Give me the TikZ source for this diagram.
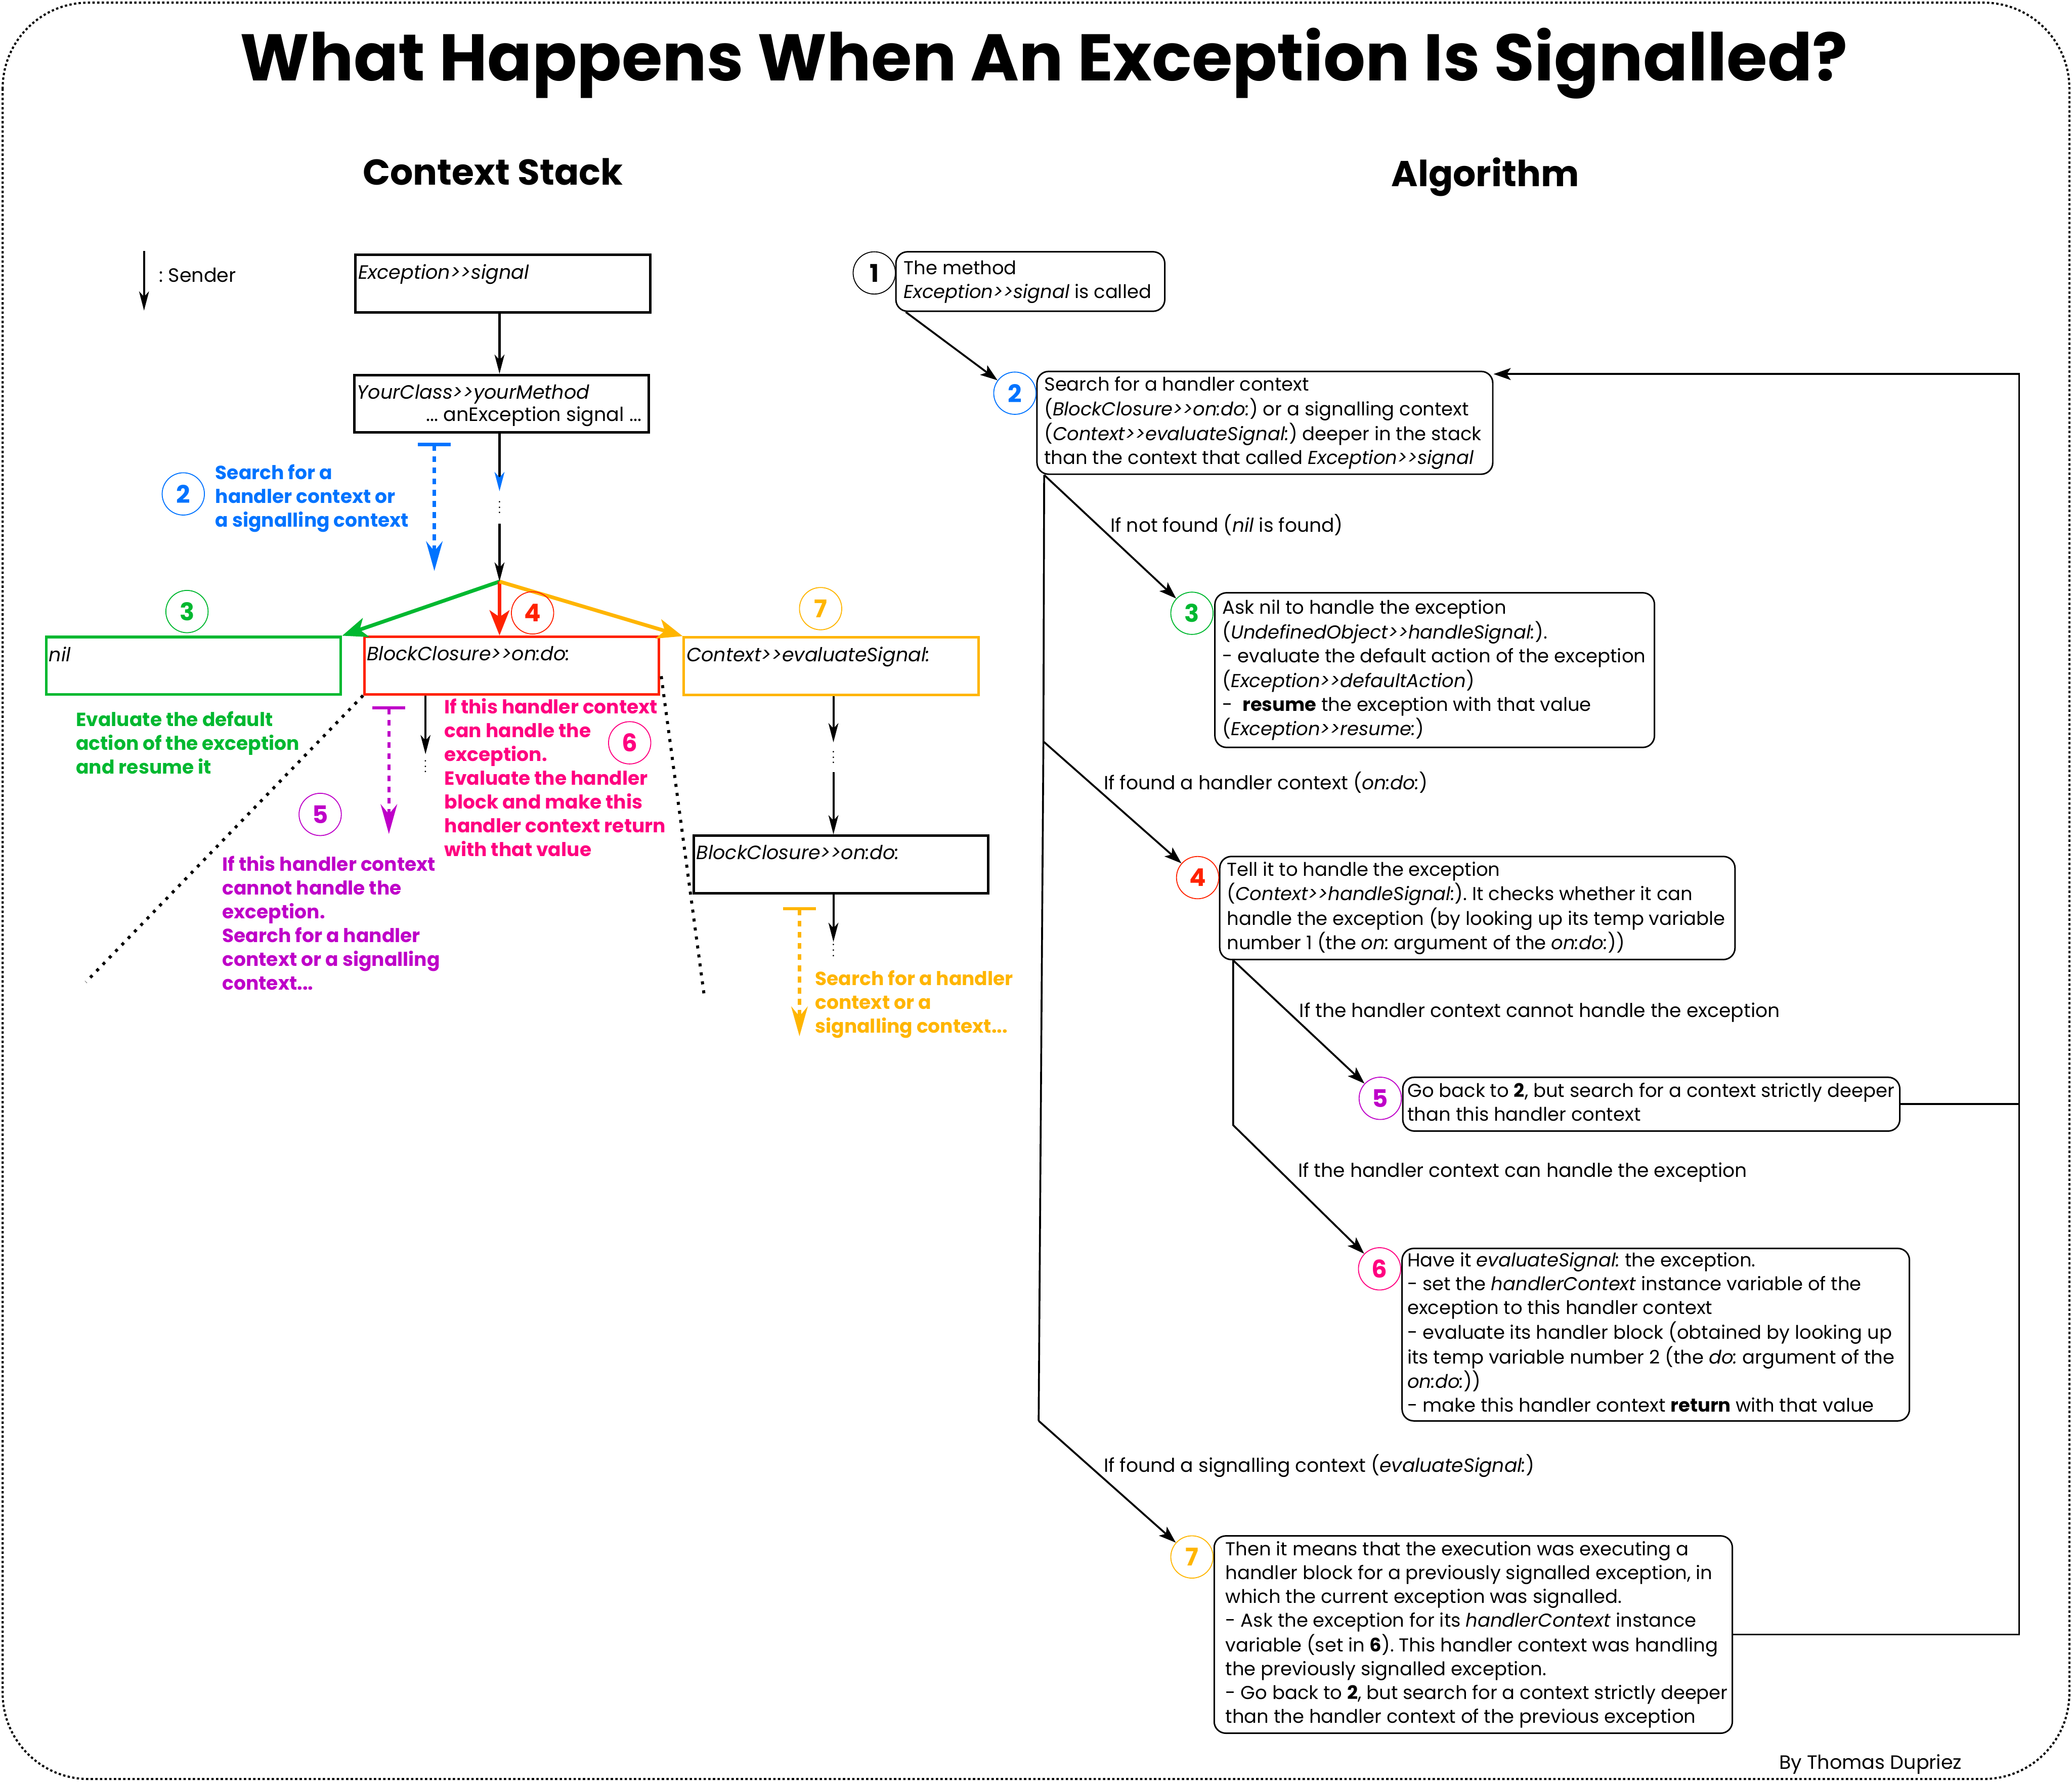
\documentclass[tikz,border=0pt]{standalone}
\usepackage{fontspec}
\setmainfont{Poppins}[Ligatures=TeXOff]
\usetikzlibrary{arrows.meta,calc}

\definecolor{cblue}{RGB}{0,115,255}
\definecolor{cgreen}{RGB}{0,184,48}
\definecolor{cred}{RGB}{255,34,0}
\definecolor{corange}{RGB}{255,181,0}
\definecolor{cmagenta}{RGB}{190,0,200}
\definecolor{cpink}{RGB}{255,0,128}

\frenchspacing
\newcommand\bodyfont{\fontsize{8.05}{10.24}\selectfont}
\newcommand\lblfont{\fontsize{8.2}{10.24}\selectfont}
\newcommand\stackfont{\fontsize{8.3}{10.24}\selectfont}
\newcommand\notefont{\fontsize{8.2}{10.24}\selectfont\bfseries}
\newcommand\stackdots{\vbox{\fontsize{5}{5}\selectfont\baselineskip2.3pt\lineskiplimit0pt\hbox{.}\hbox{.}\hbox{.}}}
\newcommand\algtext[2]{\makebox[#1][l]{\begin{tabular}{@{}l@{}}#2\end{tabular}}}

\tikzset{
  stackbox/.style={draw, line width=1.1pt, minimum width=4.46cm, minimum height=0.87cm, inner sep=0pt},
  stacklbl/.style={font=\stackfont\itshape, inner xsep=1.5pt, inner ysep=4.5pt, label distance=0pt},
  algbox/.style={draw, rounded corners=5pt, line width=0.65pt, font=\bodyfont, inner sep=0pt},
  numcirc/.style={draw, circle, minimum size=0.64cm, inner sep=0pt, line width=0.4pt, font=\fontsize{10.5}{12}\selectfont\bfseries},
  note/.style={anchor=north west, align=left, inner sep=0pt, font=\notefont},
  dotsnode/.style={inner sep=0pt},
  sender/.style={line width=0.9pt, -{Stealth[length=0.29cm, width=0.15cm, inset=0.08cm]}},
  bigarrow/.style={line width=1.6pt, -{Stealth[length=0.38cm, width=0.3cm, inset=0.1cm]}},
  searcharrow/.style={line width=1.4pt, dash pattern=on 2.5pt off 2.3pt, {Bar[width=0.5cm]}-{Stealth[length=0.45cm, width=0.25cm, inset=0.15cm]}},
  perspective/.style={line width=1.3pt, dash pattern=on 1.3pt off 2.6pt},
  algarrow/.style={line width=0.8pt, -{Stealth[length=0.26cm, width=0.18cm, inset=0.06cm]}},
  algline/.style={line width=0.8pt},
  branchlbl/.style={anchor=west, font=\lblfont, inner sep=0pt},
}

\begin{document}
\begin{tikzpicture}[x=0.02cm, y=-0.02cm]
  \useasboundingbox (0,0) rectangle (1568,1348);

  % Outer frame
  \draw[line width=0.9pt, dash pattern=on 1pt off 1pt, rounded corners=1.3cm] (2,2) rectangle (1566,1346);

  % Titles
  \node[font=\fontsize{28.4}{32}\selectfont\bfseries] (title) at (790,48) {What Happens When An Exception Is Signalled?};
  \node[font=\fontsize{15.5}{18}\selectfont\bfseries] (stackhead) at (373,130) {Context Stack};
  \node[font=\fontsize{15.5}{18}\selectfont\bfseries] (alghead) at (1124,134) {Algorithm};

  % Legend
  \coordinate (lgtop) at (109,190);
  \coordinate (lgbot) at (109,235);
  \draw[sender] (lgtop) -- (lgbot);
  \node[branchlbl, font=\stackfont] (lgtxt) at (120,208) {: Sender};

  % Context stack: sender chain
  \node[stackbox, label={[stacklbl, anchor=north west]north west:Exception>>signal}] (sig) at (380.5,214.5) {};
  \node[stackbox, label={[stacklbl, anchor=north west]north west:YourClass>>yourMethod},
    label={[stacklbl, font=\stackfont, inner xsep=3.5pt, inner ysep=3pt, anchor=south east]south east:... anException signal ...}] (ym) at (379.5,305.5) {};
  \node[dotsnode, minimum height=0.48cm] (d1) at (378,384) {\stackdots};
  \coordinate (split) at (378,440);
  \draw[sender] (sig.south -| split) -- (ym.north -| split);
  \draw[line width=0.9pt, -{Stealth[length=0.29cm, width=0.15cm, inset=0.08cm, color=cblue]}] (ym.south -| d1) -- (d1.north);
  \draw[sender] (d1.south) -- (split);

  % Step 2 on the stack
  \coordinate (s2top) at (328.7,335);
  \coordinate (s2bot) at (328.7,432);
  \draw[searcharrow, cblue] (s2top) -- (s2bot);
  \node[numcirc, cblue] (k2) at (138.7,373.7) {2};
  \node[note, cblue] (n2) at (162.6,351) {Search for a\\ handler context or\\ a signalling context};

  % The three candidate contexts
  \node[stackbox, cgreen, label={[stacklbl, black, anchor=north west]north west:nil}] (nil) at (146.5,503.7) {};
  \node[stackbox, cred, label={[stacklbl, black, anchor=north west]north west:BlockClosure>>on:do:}] (bc) at (387.2,503.5) {};
  \node[stackbox, corange, label={[stacklbl, black, anchor=north west]north west:Context>>evaluateSignal:}] (ctx) at (629,504) {};
  \draw[bigarrow, cgreen] (split) -- (nil.north east);
  \draw[bigarrow, cred] (split) -- (split |- bc.north);
  \draw[bigarrow, corange] (split) -- (ctx.north west);
  \node[numcirc, cgreen] (k3) at (141.5,462.7) {3};
  \node[numcirc, cred] (k4) at (403,463.7) {4};
  \node[numcirc, corange] (k7) at (621,460.5) {7};

  % Step 3 note
  \node[note, cgreen] (n3) at (57.2,538) {Evaluate the default\\ action of the exception\\ and resume it};

  % Perspective lines of the handler context
  \coordinate (pl) at (65,743);
  \coordinate (prs) at (500.4,511.6);
  \coordinate (pr) at (533,754);
  \draw[perspective] (bc.south west) -- (pl);
  \draw[perspective] (prs) -- (pr);

  % Steps 5 and 6 below the handler context
  \node[dotsnode, minimum height=0.36cm] (d2) at (322,580) {\stackdots};
  \draw[sender] (bc.south -| d2) -- (d2.north);
  \coordinate (s5top) at (294.3,534.3);
  \coordinate (s5bot) at (294.3,631);
  \draw[searcharrow, cmagenta] (s5top) -- (s5bot);
  \node[numcirc, cmagenta] (k5) at (242.3,616.2) {5};
  \node[note, cmagenta] (n5) at (167.9,647) {If this handler context\\ cannot handle the\\ exception.\\ Search for a handler\\ context or a signalling\\ context...};
  \node[numcirc, cpink] (k6) at (476.5,562) {6};
  \node[note, cpink] (n6) at (336,528) {If this handler context\\ can handle the\\ exception.\\ Evaluate the handler\\ block and make this\\ handler context return\\ with that value};

  % Step 7 below the signalling context
  \node[dotsnode, minimum height=0.44cm] (d3) at (630.7,573) {\stackdots};
  \node[stackbox, label={[stacklbl, anchor=north west]north west:BlockClosure>>on:do:}] (bc2) at (636.5,654) {};
  \node[dotsnode, minimum height=0.24cm] (d4) at (630.7,719) {\stackdots};
  \draw[sender] (ctx.south -| d3) -- (d3.north);
  \draw[sender] (d3.south) -- (bc2.north -| d3);
  \draw[sender] (bc2.south -| d4) -- (d4.north);
  \coordinate (s7top) at (605,686.4);
  \coordinate (s7bot) at (605,784);
  \draw[searcharrow, corange] (s7top) -- (s7bot);
  \node[note, corange] (n7) at (616.5,734) {Search for a handler\\ context or a\\ signalling context...};

  % Algorithm: boxes
  \node[algbox, minimum width=4.07cm, minimum height=0.9cm] (b1) at (779.7,213)
    {\algtext{3.83cm}{The method\\ \textit{Exception>>signal} is called}};
  \node[algbox, minimum width=6.9cm, minimum height=1.556cm] (b2) at (957.2,319.9)
    {\algtext{6.68cm}{Search for a handler context\\ (\textit{BlockClosure>>on:do:}) or a signalling context\\
     (\textit{Context>>evaluateSignal:}) deeper in the stack\\ than the context that called \textit{Exception>>signal}}};
  \node[algbox, minimum width=6.654cm, minimum height=2.34cm] (b3) at (1085.7,507)
    {\algtext{6.43cm}{Ask nil to handle the exception\\ (\textit{UndefinedObject>>handleSignal:}).\\
     - evaluate the default action of the exception\\ (\textit{Exception>>defaultAction})\\
     -~~\textbf{resume} the exception with that value\\ (\textit{Exception>>resume:})}};
  \node[algbox, minimum width=7.8cm, minimum height=1.56cm] (b4) at (1118,687)
    {\algtext{7.58cm}{Tell it to handle the exception\\ (\textit{Context>>handleSignal:}). It checks whether it can\\
     handle the exception (by looking up its temp variable\\ number 1 (the \textit{on:} argument of the \textit{on:do:}))}};
  \node[algbox, minimum width=7.524cm, minimum height=0.814cm] (b5) at (1249.6,835.4)
    {\algtext{7.38cm}{Go back to \textbf{2}, but search for a context strictly deeper\\ than this handler context}};
  \node[algbox, minimum width=7.68cm, minimum height=2.61cm] (b6) at (1253,1009.8)
    {\algtext{7.52cm}{Have it \textit{evaluateSignal:} the exception.\\ - set the \textit{handlerContext} instance variable of the\\
     exception to this handler context\\ - evaluate its handler block (obtained by looking up\\
     its temp variable number 2 (the \textit{do:} argument of the\\ \textit{on:do:}))\\
     - make this handler context \textbf{return} with that value}};
  \node[algbox, minimum width=7.844cm, minimum height=2.986cm] (b7) at (1114.9,1236.7)
    {\algtext{7.5cm}{Then it means that the execution was executing a\\ handler block for a previously signalled exception, in\\
     which the current exception was signalled.\\ - Ask the exception for its \textit{handlerContext} instance\\
     variable (set in \textbf{6}). This handler context was handling\\ the previously signalled exception.\\
     - Go back to \textbf{2}, but search for a context strictly deeper\\ than the handler context of the previous exception}};

  % Algorithm: step numbers
  \node[numcirc] (c1) at (661.6,206.5) {1};
  \node[numcirc, cblue] (c2) at (768,297.5) {2};
  \node[numcirc, cgreen] (c3) at (902,464) {3};
  \node[numcirc, cred] (c4) at (906.3,664) {4};
  \node[numcirc, cmagenta] (c5) at (1044.5,831) {5};
  \node[numcirc, cpink] (c6) at (1044,960) {6};
  \node[numcirc, corange] (c7) at (902,1178) {7};

  % Algorithm: flow
  \draw[algarrow] ($(b1.south west)+(8,0)$) -- (c2);
  \coordinate (trunktop) at ($(b2.south west)+(6,0)$);
  \coordinate (trunkmid) at (789.6,561);
  \coordinate (trunkbot) at (786,1075);
  \draw[algline] (trunktop) -- (trunkmid) -- (trunkbot);
  \draw[algarrow] (trunktop) -- (c3);
  \draw[algarrow] (trunkmid) -- (c4);
  \draw[algarrow] (trunkbot) -- (c7);
  \coordinate (fork) at ($(b4.south west)+(10.7,0)$);
  \coordinate (forkbot) at ($(fork)+(0,124.7)$);
  \draw[algarrow] (fork) -- (c5);
  \draw[algarrow] (fork) -- (forkbot) -- (c6);
  \coordinate (rtop) at (1528,283);
  \draw[algline] (b5.east) -- (b5.east -| rtop);
  \draw[algarrow] (b7.east) -| (rtop) -- (b2.north east |- rtop);

  % Algorithm: branch conditions
  \node[branchlbl] (l3) at (840,397) {If not found (\textit{nil} is found)};
  \node[branchlbl] (l4) at (835,592) {If found a handler context (\textit{on:do:})};
  \node[branchlbl] (l5) at (983,766) {If the handler context cannot handle the exception};
  \node[branchlbl] (l6) at (982,887) {If the handler context can handle the exception};
  \node[branchlbl] (l7) at (835,1109) {If found a signalling context (\textit{evaluateSignal:})};

  % Credit
  \node[anchor=east, font=\stackfont, inner sep=0pt] (credit) at (1485,1335) {By Thomas Dupriez};
\end{tikzpicture}
\end{document}
